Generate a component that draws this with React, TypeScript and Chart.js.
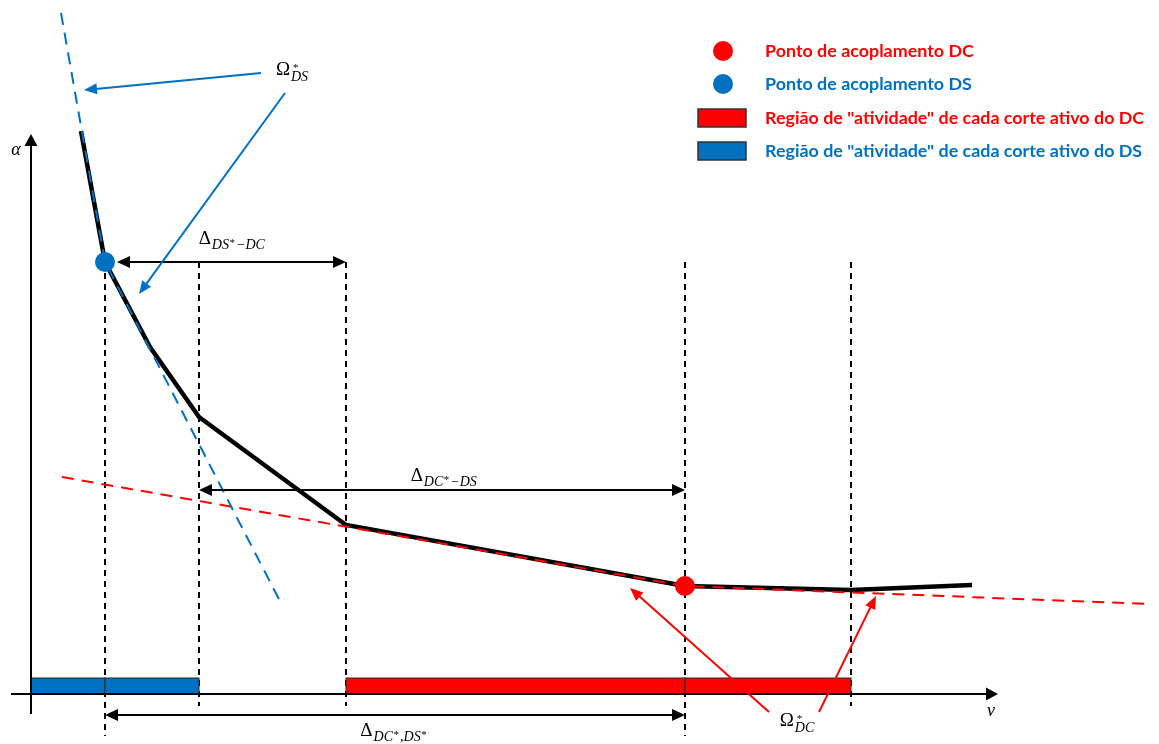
import { useEffect, useRef } from "react";
import { Chart, registerables } from "chart.js";

Chart.register(...registerables);

// ---- data (v along horizontal axis, alpha along vertical axis; origin at axis crossing) ----
const curveV = [50, 74, 119, 168, 315, 654, 820, 941];
const curveA = [563, 432, 347, 277, 169, 108, 104, 109];

const dsCutV = [30, 74, 251];
const dsCutA = [681, 432, 89];

const dcCutV = [31, 654, 1118];
const dcCutA = [217, 108, 90];

const couplingDS = { v: 74, a: 432 };
const couplingDC = { v: 654, a: 108 };

const guideV = [74, 168, 315, 654, 820];
const guideTopA = [432, 432, 432, 432, 432];
const guideBottomA = [-42, -12, -12, -42, -12];

const dsRegionStart = [0, 74];
const dsRegionEnd = [74, 168];
const dcRegionStart = [315, 654];
const dcRegionEnd = [654, 820];
const regionHeight = 16;

const deltaFromV = [86, 168, 74];
const deltaToV = [315, 654, 654];
const deltaA = [432, 204, -21];
const deltaSubs = [
  ["DS", "*", "\u2212DC"],
  ["DC", "*", "\u2212DS"],
  ["DC", "*", ",DS", "*"],
];
const deltaLabelV = [201, 413, 363];
const deltaLabelA = [450, 213, -42];

const omegaDSFrom = [[230, 621], [254, 601]];
const omegaDSTo = [[53, 604], [108, 400]];
const omegaDCFrom = [[738, -18], [788, -18]];
const omegaDCTo = [[599, 106], [845, 98]];
const omegaLabels = ["DS", "DC"];
const omegaLabelV = [261, 766];
const omegaLabelA = [619, -32];

const legendLabels = [
  "Ponto de acoplamento DC",
  "Ponto de acoplamento DS",
  'Região de "atividade" de cada corte ativo do DC',
  'Região de "atividade" de cada corte ativo do DS',
];
const legendKinds = ["dot", "dot", "rect", "rect"];

const RED = "#FF0000";
const BLUE = "#0070C0";
const legendColors = [RED, BLUE, RED, BLUE];

const MATH = "'Liberation Serif', 'DejaVu Serif', serif";

function pts(vs: number[], as: number[]) {
  return vs.map((v, i) => ({ x: v, y: as[i] }));
}

function head(ctx: CanvasRenderingContext2D, x: number, y: number, ang: number, hl: number, hw: number) {
  const c = Math.cos(ang), s = Math.sin(ang);
  ctx.beginPath();
  ctx.moveTo(x, y);
  ctx.lineTo(x - hl * c + hw * s, y - hl * s - hw * c);
  ctx.lineTo(x - hl * c - hw * s, y - hl * s + hw * c);
  ctx.closePath();
  ctx.fill();
}

function arrow(
  ctx: CanvasRenderingContext2D,
  x1: number, y1: number, x2: number, y2: number,
  color: string, lw: number, hl: number, hw: number, both: boolean
) {
  const ang = Math.atan2(y2 - y1, x2 - x1);
  const c = Math.cos(ang), s = Math.sin(ang);
  ctx.strokeStyle = color;
  ctx.fillStyle = color;
  ctx.lineWidth = lw;
  ctx.setLineDash([]);
  ctx.beginPath();
  const sx = both ? x1 + c * hl * 0.7 : x1;
  const sy = both ? y1 + s * hl * 0.7 : y1;
  ctx.moveTo(sx, sy);
  ctx.lineTo(x2 - c * hl * 0.7, y2 - s * hl * 0.7);
  ctx.stroke();
  head(ctx, x2, y2, ang, hl, hw);
  if (both) head(ctx, x1, y1, ang + Math.PI, hl, hw);
}

type Tok = { t: string; kind: "base" | "sub" | "subsup" | "stack"; t2?: string };

function mathLabel(ctx: CanvasRenderingContext2D, cx: number, baseY: number, toks: Tok[], color: string) {
  const baseFont = `19px ${MATH}`;
  const subFont = `italic 14px ${MATH}`;
  const starFont = `11px ${MATH}`;
  const widths = toks.map((tk) => {
    if (tk.kind === "base") { ctx.font = baseFont; return ctx.measureText(tk.t).width + 1; }
    if (tk.kind === "sub") { ctx.font = subFont; return ctx.measureText(tk.t).width + 0.5; }
    if (tk.kind === "subsup") { ctx.font = starFont; return ctx.measureText(tk.t).width + 1; }
    ctx.font = subFont;
    const w2 = ctx.measureText(tk.t2 || "").width;
    ctx.font = starFont;
    const w1 = ctx.measureText(tk.t).width;
    return Math.max(w1, w2);
  });
  const total = widths.reduce((a, b) => a + b, 0);
  let x = cx - total / 2;
  ctx.fillStyle = color;
  ctx.textAlign = "left";
  ctx.textBaseline = "alphabetic";
  toks.forEach((tk, i) => {
    if (tk.kind === "base") { ctx.font = baseFont; ctx.fillText(tk.t, x, baseY); }
    else if (tk.kind === "sub") { ctx.font = subFont; ctx.fillText(tk.t, x, baseY + 5); }
    else if (tk.kind === "subsup") { ctx.font = starFont; ctx.fillText(tk.t, x, baseY + 2); }
    else {
      ctx.font = starFont;
      ctx.fillText(tk.t, x + 2, baseY - 4);
      ctx.font = subFont;
      ctx.fillText(tk.t2 || "", x, baseY + 6);
    }
    x += widths[i];
  });
}

const overlayPlugin = {
  id: "diagramOverlay",
  afterDatasetsDraw(chart: any) {
    const ctx: CanvasRenderingContext2D = chart.ctx;
    const X = (v: number) => chart.scales.x.getPixelForValue(v);
    const Y = (a: number) => chart.scales.y.getPixelForValue(a);
    ctx.save();

    // activity regions
    const region = (s: number, e: number, color: string) => {
      const x1 = X(s), x2 = X(e), y1 = Y(regionHeight), y2 = Y(0);
      ctx.fillStyle = color;
      ctx.fillRect(x1, y1, x2 - x1, y2 - y1);
      ctx.strokeStyle = "#2b2b2b";
      ctx.lineWidth = 1;
      ctx.setLineDash([]);
      ctx.strokeRect(x1, y1, x2 - x1, y2 - y1);
    };
    dsRegionStart.forEach((s, i) => region(s, dsRegionEnd[i], BLUE));
    dcRegionStart.forEach((s, i) => region(s, dcRegionEnd[i], RED));

    // axes
    arrow(ctx, X(-20), Y(0), X(967), Y(0), "#000", 2, 12, 6.5, false);
    arrow(ctx, X(0), Y(-20), X(0), Y(560), "#000", 2, 12, 6.5, false);
    ctx.fillStyle = "#000";
    ctx.font = `italic 18px ${MATH}`;
    ctx.textAlign = "center";
    ctx.textBaseline = "alphabetic";
    ctx.fillText("\u03B1", X(-15), Y(539));
    ctx.fillText("v", X(960), Y(-22));

    // delta dimension arrows
    deltaFromV.forEach((v, i) => {
      arrow(ctx, X(v), Y(deltaA[i]), X(deltaToV[i]), Y(deltaA[i]), "#000", 2, 13, 6, true);
      const subs = deltaSubs[i];
      const toks: Tok[] = [{ t: "\u0394", kind: "base" }];
      subs.forEach((s) => toks.push(s === "*" ? { t: "*", kind: "subsup" } : { t: s, kind: "sub" }));
      mathLabel(ctx, X(deltaLabelV[i]), Y(deltaLabelA[i]), toks, "#000");
    });

    // omega annotations
    omegaDSFrom.forEach((f, i) => {
      const t = omegaDSTo[i];
      arrow(ctx, X(f[0]), Y(f[1]), X(t[0]), Y(t[1]), BLUE, 2, 13, 5.5, false);
    });
    omegaDCFrom.forEach((f, i) => {
      const t = omegaDCTo[i];
      arrow(ctx, X(f[0]), Y(f[1]), X(t[0]), Y(t[1]), RED, 2, 13, 5.5, false);
    });
    omegaLabels.forEach((lab, i) => {
      mathLabel(ctx, X(omegaLabelV[i]), Y(omegaLabelA[i]),
        [{ t: "\u03A9", kind: "base" }, { t: "*", kind: "stack", t2: lab }], "#000");
    });

    // legend
    const lx = 723, tx = 765, rows = [51, 84, 118, 151];
    ctx.font = `bold 20px Lato, 'Open Sans', sans-serif`;
    const w20 = ctx.measureText(legendLabels[0]).width;
    const fs = Math.max(12, Math.min(20, (20 * 209) / w20));
    legendLabels.forEach((lab, i) => {
      const y = rows[i];
      if (legendKinds[i] === "dot") {
        ctx.fillStyle = legendColors[i];
        ctx.beginPath();
        ctx.arc(lx, y, 10, 0, Math.PI * 2);
        ctx.fill();
      } else {
        ctx.fillStyle = legendColors[i];
        ctx.fillRect(698, y - 9, 48, 18);
        ctx.strokeStyle = "#333";
        ctx.lineWidth = 1.5;
        ctx.strokeRect(698, y - 9, 48, 18);
      }
      ctx.fillStyle = legendColors[i];
      ctx.font = `bold ${fs}px Lato, 'Open Sans', sans-serif`;
      ctx.textAlign = "left";
      ctx.textBaseline = "middle";
      ctx.fillText(lab, tx, y);
    });

    ctx.restore();
  },
};

export default function App() {
  const ref = useRef<HTMLCanvasElement | null>(null);
  useEffect(() => {
    if (!ref.current) return;
    const line = (data: any[], color: string, width: number, dash: number[]) => ({
      data,
      showLine: true,
      borderColor: color,
      backgroundColor: color,
      borderWidth: width,
      borderDash: dash,
      borderCapStyle: "butt",
      pointRadius: 0,
      fill: false,
      tension: 0,
    });
    const datasets: any[] = [
      {
        data: [{ x: couplingDS.v, y: couplingDS.a }],
        pointRadius: 10,
        pointBackgroundColor: BLUE,
        pointBorderWidth: 0,
        showLine: false,
      },
      {
        data: [{ x: couplingDC.v, y: couplingDC.a }],
        pointRadius: 10,
        pointBackgroundColor: RED,
        pointBorderWidth: 0,
        showLine: false,
      },
      line(pts(dsCutV, dsCutA), BLUE, 2, [12, 8]),
      line(pts(dcCutV, dcCutA), RED, 2, [12, 8]),
      line(pts(curveV, curveA), "#000", 4.5, []),
      ...guideV.map((v, i) =>
        line([{ x: v, y: guideTopA[i] }, { x: v, y: guideBottomA[i] }], "#000", 2, [6, 5])
      ),
    ];
    const chart = new Chart(ref.current, {
      type: "scatter",
      data: { datasets },
      options: {
        animation: false,
        responsive: false,
        events: [],
        layout: { padding: 0, autoPadding: false },
        plugins: { legend: { display: false }, tooltip: { enabled: false }, title: { display: false } },
        scales: {
          x: { type: "linear", min: -31, max: 1128, display: false },
          y: { type: "linear", min: -50, max: 694, display: false },
        },
      },
      plugins: [overlayPlugin],
    } as any);
    return () => chart.destroy();
  }, []);
  return (
    <div style={{ position: "absolute", left: 0, top: 0, width: 1159, height: 744, background: "#fff" }}>
      <canvas ref={ref} width={1159} height={744} />
    </div>
  );
}
